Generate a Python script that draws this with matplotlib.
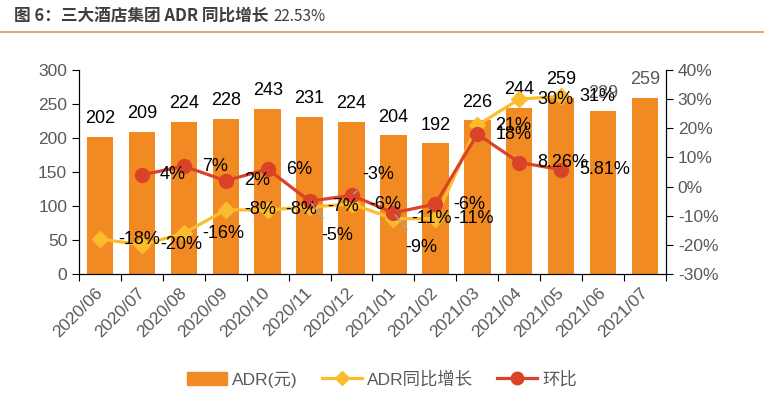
import numpy as np
import matplotlib.pyplot as plt
from matplotlib.patches import Patch
from matplotlib.lines import Line2D

plt.rcParams['font.family'] = ['Liberation Sans', 'Noto Sans CJK SC']

# data
months = ['2020/06', '2020/07', '2020/08', '2020/09', '2020/10', '2020/11', '2020/12',
          '2021/01', '2021/02', '2021/03', '2021/04', '2021/05', '2021/06', '2021/07']
adr = [202, 209, 224, 228, 243, 231, 224, 204, 192, 226, 244, 259, 239, 259]
yoy = [-18, -20, -16, -8, -8, -7, -6, -11, -11, 21, 30, 31]          # 2020/06 - 2021/05
mom = [4, 7, 2, 6, -5, -3, -9, -6, 18, 8.26, 5.81]                   # 2020/07 - 2021/05

orange = '#F28A24'
yellow = '#FBBD2E'
red = '#DA4325'
gray = '#595959'

fig = plt.figure(figsize=(7.64, 3.95), dpi=100)
ax = fig.add_axes([0.1034, 0.3063, 0.7683, 0.5165])
x = np.arange(len(months))

ax.bar(x, adr, width=0.63, color=orange, zorder=1)
ax.set_xlim(-0.5, len(months) - 0.5)
ax.set_ylim(0, 300)
ax.set_yticks(np.arange(0, 301, 50))
ax.set_xticks(np.arange(-0.5, len(months), 1))
ax.set_xticklabels([])
ax.set_xticks(x, minor=True)
ax.set_xticklabels(months, minor=True, rotation=45, ha='right', va='center',
                   rotation_mode='anchor', color=gray, fontsize=12.5)
ax.tick_params(axis='x', which='minor', length=0, pad=12)
ax.tick_params(axis='x', which='major', length=5, direction='out')
ax.tick_params(axis='y', labelsize=12.5, labelcolor=gray, length=5)
ax.spines['top'].set_visible(False)

for i, v in enumerate(adr):
    c = 'black' if i < 12 else gray
    ax.annotate(str(v), (x[i], v), xytext=(0, 7), textcoords='offset points',
                ha='center', va='bottom', fontsize=13, color=c)

ax2 = ax.twinx()
ax2.set_ylim(-30, 40)
ax2.set_yticks(np.arange(-30, 41, 10))
ax2.set_yticklabels(['%d%%' % t for t in np.arange(-30, 41, 10)])
ax2.tick_params(axis='y', labelsize=12.5, labelcolor=gray, length=5)
ax2.spines['top'].set_visible(False)

xy = x[:len(yoy)]
xm = x[1:1 + len(mom)]
ax2.plot(xy, yoy, color=yellow, marker='D', ms=8, lw=2.3, zorder=3)
ax2.plot(xm, mom, color=red, marker='o', ms=10, lw=2.3, zorder=4)

for xi, v in zip(xy, yoy):
    ax2.annotate('%d%%' % v, (xi, v), xytext=(13, 0), textcoords='offset points',
                 ha='left', va='center', fontsize=13, zorder=6)

# a few of the month-on-month labels were pulled away with leader lines
moved = {4: (20, -25), 5: (19, 15), 6: (20, -25)}
for k, (xi, v) in enumerate(zip(xm, mom)):
    txt = '%d%%' % v if v == int(v) else '%.2f%%' % v
    if k in moved:
        ax2.annotate(txt, (xi, v), xytext=moved[k], textcoords='offset points',
                     ha='center', va='center', fontsize=13, zorder=6,
                     arrowprops=dict(arrowstyle='-', color='#A6A6A6', lw=1,
                                     shrinkA=6, shrinkB=2))
    else:
        ax2.annotate(txt, (xi, v), xytext=(13, 0), textcoords='offset points',
                     ha='left', va='center', fontsize=13, zorder=6)

handles = [Patch(color=orange),
           Line2D([], [], color=yellow, marker='D', ms=7, lw=2.3),
           Line2D([], [], color=red, marker='o', ms=9, lw=2.3)]
fig.legend(handles, ['ADR(元)', 'ADR同比增长', '环比'], loc='center',
           bbox_to_anchor=(0.5, 0.04), ncol=3, frameon=False, fontsize=12.5,
           labelcolor=gray, handlelength=2.3, columnspacing=1.4, handletextpad=0.3)

# title bar
title = fig.text(0.018, 0.958, '图 6：三大酒店集团 ADR 同比增长', fontsize=12, fontweight='bold',
                 color='#3F3F3F', va='center', family=['Noto Sans CJK SC', 'DejaVu Sans'])
fig.add_artist(plt.Annotation('22.53%', xy=(1, 0.5), xycoords=title, xytext=(4, 0),
                              textcoords='offset points', va='center', fontsize=11,
                              color='#3F3F3F', family=['Noto Sans CJK SC', 'DejaVu Sans']))
fig.add_artist(Line2D([0, 1], [0.919, 0.919], color='#D9955C', lw=1.2))

fig.savefig('out.png', dpi=100)
